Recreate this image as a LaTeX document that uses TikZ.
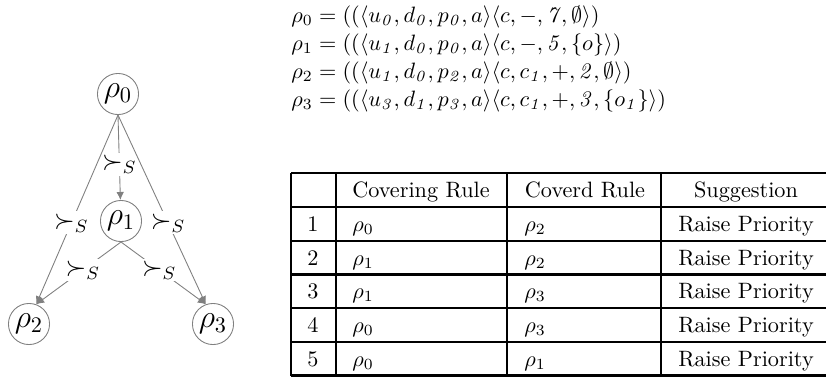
\documentclass[tikz,border=0pt]{standalone}
\usepackage{amsmath,amssymb}
\usetikzlibrary{arrows.meta}
\begin{document}
\begin{tikzpicture}[
        x=0.45pt, y=-0.45pt,
        rulenode/.style={draw=gray, circle, minimum size=18.5pt, inner sep=0pt, font=\Large},
        cover/.style={draw=gray, thin, -{Latex[length=3.6pt,width=3.4pt]}},
        covlabel/.style={fill=white, inner sep=1pt, font=\large},
        tabline/.style={line width=1.1pt},
        tabcell/.style={anchor=base, inner sep=0pt},
        formula/.style={anchor=base west, inner sep=0pt},
    ]
    \useasboundingbox (0,0) rectangle (826,376);
    % rule graph
    \node[rulenode](r0) at (118,94){$\rho_0$};
    \node[rulenode](r1) at (121,221){$\rho_1$};
    \node[rulenode](r2) at (29,324){$\rho_2$};
    \node[rulenode](r3) at (213,324){$\rho_3$};
    \draw[cover] (r0.south) -- node[covlabel,pos=0.58](c01){$\succ_S$} (r1);
    \draw[cover] (r0.south) -- node[covlabel,pos=0.57](c02){$\succ_S$} (r2.70);
    \draw[cover] (r0.south) -- node[covlabel,pos=0.57](c03){$\succ_S$} (r3.110);
    \draw[cover] (r1.south) -- node[covlabel,pos=0.45](c12){$\succ_S$} (r2.70);
    \draw[cover] (r1.south) -- node[covlabel,pos=0.45](c13){$\succ_S$} (r3.110);
    % rules
    \node[formula](f0) at (291,22){$\rho_0=((\langle u_{\mathit{0}},d_{\mathit{0}},p_{\mathit{0}},a\rangle\langle c,-,\mathit{7},\emptyset\rangle)$};
    \node[formula](f1) at (291,50){$\rho_1=((\langle u_{\mathit{1}},d_{\mathit{0}},p_{\mathit{0}},a\rangle\langle c,-,\mathit{5},\{o\}\rangle)$};
    \node[formula](f2) at (291,78){$\rho_2=((\langle u_{\mathit{1}},d_{\mathit{0}},p_{\mathit{2}},a\rangle\langle c,c_{\mathit{1}},+,\mathit{2},\emptyset\rangle)$};
    \node[formula](f3) at (291,106){$\rho_3=((\langle u_{\mathit{3}},d_{\mathit{1}},p_{\mathit{3}},a\rangle\langle c,c_{\mathit{1}},+,\mathit{3},\{o_{\mathit{1}}\}\rangle)$};
    % table
    \foreach \y in {173,207,241,274.5,308,342,375.5}
        \draw[tabline] (291,\y) -- (830,\y);
    \foreach \x in {291,336,507,661,828}
        \draw[tabline] (\x,173) -- (\x,375.5);
    \node[tabcell](h1) at (421,197){Covering Rule};
    \node[tabcell](h2) at (585,197){Coverd Rule};
    \node[tabcell](h3) at (746,197){Suggestion};
    \foreach \i/\a/\b/\yb in {1/0/2/231,2/1/2/265,3/1/3/298,4/0/3/332,5/0/1/366}{
        \node[tabcell](n\i) at (313,\yb){\i};
        \node[tabcell,anchor=base west](a\i) at (352,\yb){$\rho_\a$};
        \node[tabcell,anchor=base west](b\i) at (524,\yb){$\rho_\b$};
        \node[tabcell](s\i) at (746,\yb){Raise Priority};
    }
\end{tikzpicture}
\end{document}
